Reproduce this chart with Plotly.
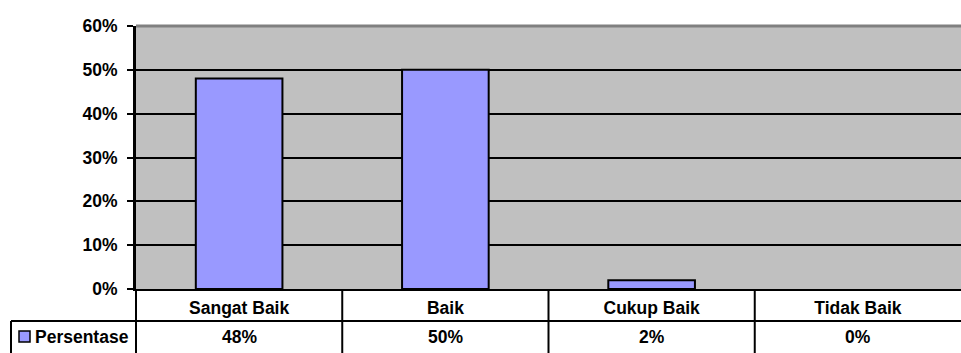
import plotly.graph_objects as go

categories = ["Sangat Baik", "Baik", "Cukup Baik", "Tidak Baik"]
values = [0.48, 0.50, 0.02, 0.00]
series_name = "Persentase"
y_ticks = [0, 0.1, 0.2, 0.3, 0.4, 0.5, 0.6]
y_tick_labels = ["0%", "10%", "20%", "30%", "40%", "50%", "60%"]

W, H = 961, 353
ML, MT, MB = 136, 26, 64
plot_w = W - ML
plot_h = H - MT - MB

def py(px_below_axis):
    return -px_below_axis / plot_h

def pxp(px):
    return (px - ML) / plot_w

FONT = "Liberation Sans, Arial, sans-serif"
FS = 17.5
BAR_COLOR = "#9999FF"

fig = go.Figure()
fig.add_trace(go.Bar(
    x=categories, y=values, name=series_name,
    marker=dict(color=BAR_COLOR,
                line=dict(color="black", width=[2 if v > 0 else 0 for v in values])),
    showlegend=False,
))

shapes = []
shapes.append(dict(type="line", xref="paper", yref="paper", x0=0, x1=1, y0=1, y1=1,
                   line=dict(color="#808080", width=3), layer="above"))
row1 = 32
shapes.append(dict(type="line", xref="paper", yref="paper", x0=pxp(11), x1=1.01,
                   y0=py(row1), y1=py(row1), line=dict(color="black", width=2), layer="above"))
shapes.append(dict(type="line", xref="paper", yref="paper", x0=pxp(11), x1=pxp(11),
                   y0=py(row1), y1=py(80), line=dict(color="black", width=2), layer="above"))
shapes.append(dict(type="line", xref="paper", yref="paper", x0=0, x1=0,
                   y0=0, y1=py(80), line=dict(color="black", width=2), layer="above"))
n = len(categories)
for i in range(1, n):
    xp = i / n
    shapes.append(dict(type="line", xref="paper", yref="paper", x0=xp, x1=xp,
                       y0=0, y1=py(80), line=dict(color="black", width=2), layer="above"))
shapes.append(dict(type="rect", xref="paper", yref="paper", x0=pxp(19), x1=pxp(30),
                   y0=py(42), y1=py(53), fillcolor=BAR_COLOR,
                   line=dict(color="black", width=1.5), layer="above"))

annotations = []
for c, v in zip(categories, values):
    annotations.append(dict(xref="x", yref="paper", x=c, y=py(48),
                            text=f"{round(v * 100)}%", showarrow=False, yanchor="middle",
                            font=dict(family=FONT, size=FS, color="black", weight="bold")))
annotations.append(dict(xref="paper", yref="paper", x=pxp(33), y=py(48),
                        text=series_name, showarrow=False, xanchor="left", yanchor="middle",
                        font=dict(family=FONT, size=FS, color="black", weight="bold")))

fig.update_layout(
    width=W, height=H,
    margin=dict(l=ML, r=0, t=MT, b=MB, pad=0),
    paper_bgcolor="white",
    plot_bgcolor="#C0C0C0",
    bargap=0.58,
    shapes=shapes,
    annotations=annotations,
    font=dict(family=FONT, size=FS, color="black", weight="bold"),
    xaxis=dict(
        type="category", range=[-0.5, n - 0.5], showgrid=False,
        showline=True, linecolor="black", linewidth=2,
        ticks="", tickfont=dict(family=FONT, size=FS, color="black", weight="bold"),
        ticklabelstandoff=2,
    ),
    yaxis=dict(
        range=[0, 0.6], tickvals=y_ticks, ticktext=y_tick_labels,
        showgrid=True, gridcolor="black", gridwidth=2,
        zeroline=False, showline=True, linecolor="black", linewidth=3,
        ticks="outside", ticklen=6, tickwidth=2, tickcolor="black",
        ticklabelstandoff=6,
        tickfont=dict(family=FONT, size=FS, color="black", weight="bold"),
    ),
)

fig.write_html("out.html")
